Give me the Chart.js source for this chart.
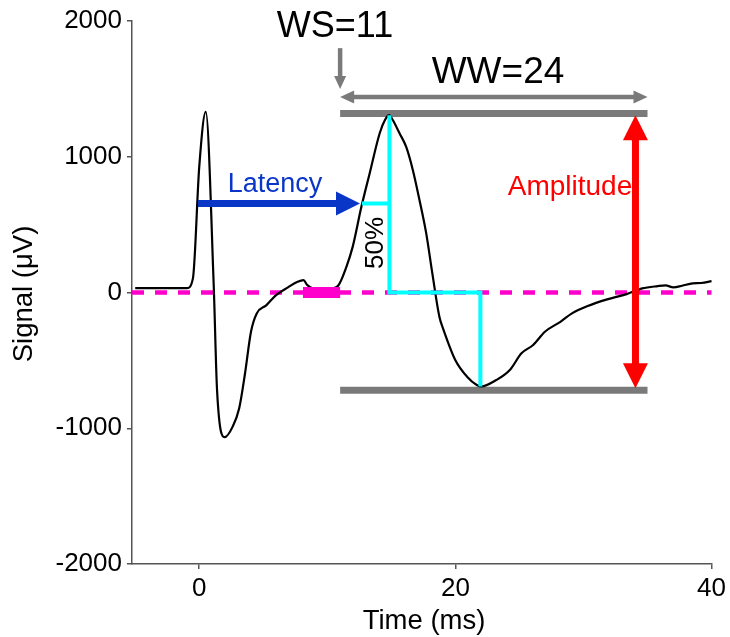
<!DOCTYPE html>
<html>
<head>
<meta charset="utf-8">
<script src="https://cdn.jsdelivr.net/npm/chart.js@4.4.1/dist/chart.umd.min.js"></script>
<style>
  html, body { margin: 0; padding: 0; background: #fff; }
  canvas { display: block; }
</style>
</head>
<body>
<canvas id="evokedChart" width="730" height="637"></canvas>
<script>
const timeMs = [-5, -0.96, -0.49, 0.0, 0.51, 1.13, 1.39, 1.99, 2.61, 3.12, 3.58, 4.04, 4.49, 5.25, 6.0, 6.93, 7.68, 8.14, 8.44, 9.4, 10.3,
  10.82, 11.49, 11.98, 12.66, 13.31, 14.09, 14.5, 14.83, 15.12, 15.64, 16.16, 16.68, 17.2, 17.72, 18.2, 18.75, 19.08, 19.99, 20.91,
  21.67, 22.02, 23.19, 24.25, 25.16, 26.07, 26.99, 28.2, 29.1, 30.33, 31.85, 33.37, 34.58, 35.8, 36.4, 37.02, 37.7, 38.52, 39.2, 40];
const signalUv = [32, 32, 106, 925, 1330, 54, -718, -1066, -988, -853, -593, -289, -154, -93, -19, 38, 79, 91, 54, 20, 30,
  47, 189, 336, 631, 879, 1173, 1270, 1306, 1269, 1173, 1072, 901, 680, 437, 141, -179, -277, -497, -620,
  -681, -692, -645, -571, -448, -387, -289, -216, -154, -100, -51, -12, 30, 47, 52, 38, 50, 67, 70, 84];

const xTicks = [0, 20, 40];
const yTicks = [-2000, -1000, 0, 1000, 2000];

// analysis markers (data units)
const baselineWin = [8.1, 11];          // magenta block
const windowEdges = [11, 35];           // WS=11, WS+WW=35
const peakBarLevel = 1318;
const troughBarLevel = -720;
const wwArrowLevel = 1440;
const wsArrowRange = [1800, 1500];
const latencyRange = [-0.1, 12.55];
const halfLevel = 656;
const cyanX = [12.7, 14.85, null, 14.85, 14.85, 21.95, 21.95];
const cyanY = [656, 656, null, 1305, 0, 0, -692];
const ampX = 34.06;
const ampRange = [1305, -705];

const FONT = "'Liberation Sans', Arial, sans-serif";

function pts(xs, ys) {
  return xs.map((x, i) => (x === null ? { x: null, y: null } : { x: x, y: ys[i] }));
}

function arrow(ctx, x1, y1, x2, y2, w, headLen, headW, color, both) {
  const ang = Math.atan2(y2 - y1, x2 - x1);
  const cos = Math.cos(ang), sin = Math.sin(ang);
  const sx = both ? x1 + cos * headLen * 0.9 : x1;
  const sy = both ? y1 + sin * headLen * 0.9 : y1;
  const ex = x2 - cos * headLen * 0.9, ey = y2 - sin * headLen * 0.9;
  ctx.save();
  ctx.strokeStyle = color;
  ctx.fillStyle = color;
  ctx.lineWidth = w;
  ctx.beginPath();
  ctx.moveTo(sx, sy);
  ctx.lineTo(ex, ey);
  ctx.stroke();
  const head = (tx, ty, dir) => {
    const c = Math.cos(dir), s = Math.sin(dir);
    const bx = tx - c * headLen, by = ty - s * headLen;
    ctx.beginPath();
    ctx.moveTo(tx, ty);
    ctx.lineTo(bx - s * headW / 2, by + c * headW / 2);
    ctx.lineTo(bx + s * headW / 2, by - c * headW / 2);
    ctx.closePath();
    ctx.fill();
  };
  head(x2, y2, ang);
  if (both) head(x1, y1, ang + Math.PI);
  ctx.restore();
}

const annotate = {
  id: "annotate",
  afterDatasetsDraw(chart) {
    const ctx = chart.ctx;
    const xs = chart.scales.x, ys = chart.scales.y;
    const X = (v) => xs.getPixelForValue(v);
    const Y = (v) => ys.getPixelForValue(v);

    // WS marker and WW span
    arrow(ctx, X(windowEdges[0]), Y(wsArrowRange[0]), X(windowEdges[0]), Y(wsArrowRange[1]), 4.5, 13, 12, "#7a7a7a", false);
    arrow(ctx, X(windowEdges[0]), Y(wwArrowLevel), X(windowEdges[1]), Y(wwArrowLevel), 4.5, 14, 13, "#7a7a7a", true);
    // latency
    arrow(ctx, X(latencyRange[0]), Y(halfLevel), X(latencyRange[1]), Y(halfLevel), 7, 24, 24, "#0a36c8", false);
    // amplitude
    arrow(ctx, X(ampX), Y(ampRange[0]), X(ampX), Y(ampRange[1]), 7, 25, 25, "#ff0000", true);

    ctx.save();
    ctx.textAlign = "center";
    ctx.textBaseline = "alphabetic";
    ctx.fillStyle = "#000";
    ctx.font = "36px " + FONT;
    ctx.fillText("WS=11", 335, 37);
    ctx.font = "37px " + FONT;
    ctx.fillText("WW=24", 498, 83);
    ctx.font = "27px " + FONT;
    ctx.fillStyle = "#0a36c8";
    ctx.fillText("Latency", 275, 192);
    ctx.fillStyle = "#ff0000";
    ctx.font = "28px " + FONT;
    ctx.fillText("Amplitude", 570, 195);

    ctx.fillStyle = "#000";
    ctx.font = "26px " + FONT;
    ctx.save();
    ctx.translate(383, 243);
    ctx.rotate(-Math.PI / 2);
    ctx.fillText("50%", 0, 0);
    ctx.restore();

    // axis titles
    ctx.font = "27.5px " + FONT;
    ctx.fillText("Time (ms)", 424, 629);
    ctx.translate(32, 294);
    ctx.rotate(-Math.PI / 2);
    ctx.fillText("Signal (\u03bcV)", 0, 0);
    ctx.restore();
  }
};

new Chart(document.getElementById("evokedChart"), {
  type: "line",
  data: {
    datasets: [
      {
        // baseline window block
        data: pts(baselineWin, [0, 0]),
        borderColor: "#ff00cc",
        borderWidth: 11,
        borderCapStyle: "butt",
        pointRadius: 0,
        order: 1
      },
      {
        data: pts(cyanX, cyanY),
        borderColor: "#00ffff",
        borderWidth: 4,
        pointRadius: 0,
        spanGaps: false,
        order: 2
      },
      {
        data: pts(timeMs, signalUv),
        borderColor: "#000",
        borderWidth: 2.2,
        pointRadius: 0,
        cubicInterpolationMode: "monotone",
        order: 3
      },
      {
        data: pts([-5.25, 40], [0, 0]),
        borderColor: "#ff00cc",
        borderWidth: 4.5,
        borderDash: [12, 11],
        pointRadius: 0,
        order: 4
      },
      {
        data: pts(windowEdges, [peakBarLevel, peakBarLevel]),
        borderColor: "#7a7a7a",
        borderWidth: 7,
        borderCapStyle: "butt",
        pointRadius: 0,
        order: 5
      },
      {
        data: pts(windowEdges, [troughBarLevel, troughBarLevel]),
        borderColor: "#7a7a7a",
        borderWidth: 7,
        borderCapStyle: "butt",
        pointRadius: 0,
        order: 5
      }
    ]
  },
  options: {
    responsive: false,
    animation: false,
    clip: false,
    layout: { padding: { top: 21, right: 17, left: 0, bottom: 0 } },
    plugins: { legend: { display: false }, tooltip: { enabled: false } },
    scales: {
      x: {
        type: "linear",
        min: -5.25,
        max: 40,
        afterBuildTicks: (s) => { s.ticks = xTicks.map((v) => ({ value: v })); },
        afterFit: (s) => { s.height = 73; },
        grid: { drawOnChartArea: false, drawTicks: true, tickLength: 5, color: "#555", lineWidth: 1.5 },
        border: { display: true, color: "#555", width: 1.5 },
        ticks: { color: "#000", padding: 4, maxRotation: 0, font: { family: FONT, size: 26 }, callback: (v) => String(v) }
      },
      y: {
        min: -2000,
        max: 2000,
        afterBuildTicks: (s) => { s.ticks = yTicks.map((v) => ({ value: v })); },
        afterFit: (s) => { s.width = 132; },
        grid: { drawOnChartArea: false, drawTicks: true, tickLength: 5, color: "#555", lineWidth: 1.5 },
        border: { display: true, color: "#555", width: 1.5 },
        ticks: { color: "#000", padding: 5, font: { family: FONT, size: 26 }, callback: (v) => String(v) }
      }
    }
  },
  plugins: [annotate]
});
</script>
</body>
</html>
